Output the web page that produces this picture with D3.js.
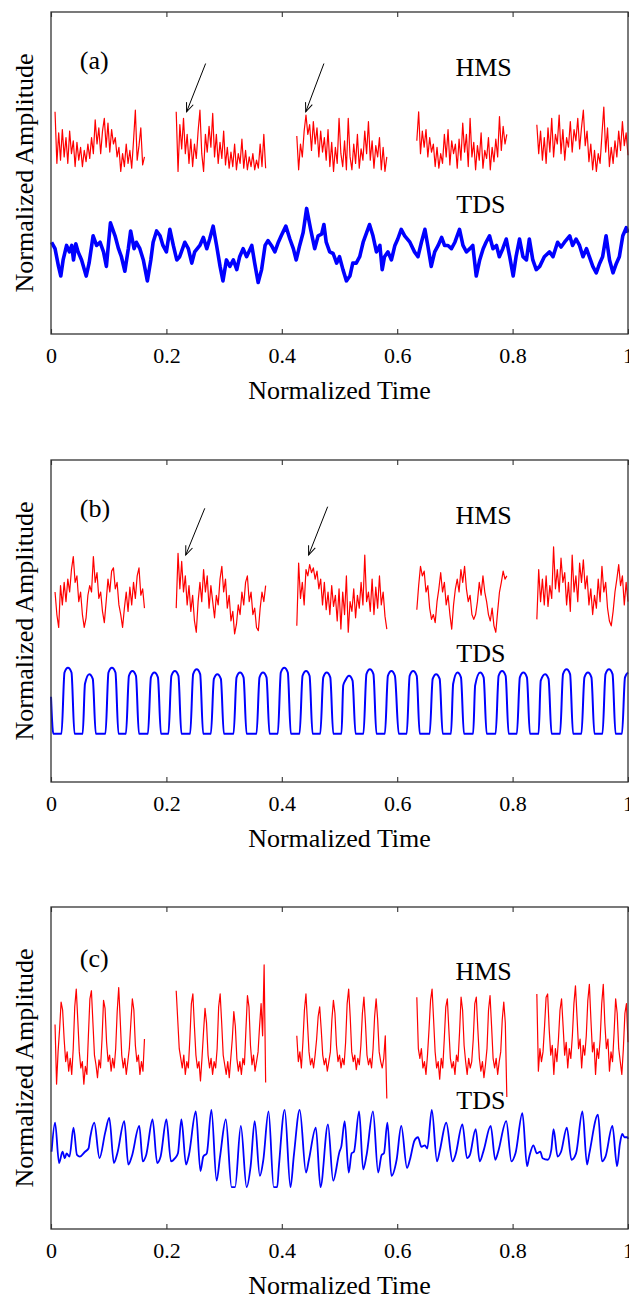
<!DOCTYPE html>
<html><head><meta charset="utf-8">
<script src="https://cdn.jsdelivr.net/npm/d3@7"></script>
<style>
body{margin:0;background:#fff}
svg{display:block}
text{font-family:"Liberation Serif","Times New Roman",serif;fill:#000}
</style>
</head><body>
<svg id="chart" width="629" height="1295"></svg>
<script>
// ---------------- DATA ----------------
const tickValues = [0, 0.2, 0.4, 0.6, 0.8, 1];
const tickLabels = ["0", "0.2", "0.4", "0.6", "0.8", "1"];
const panelLabels = ["(a)", "(b)", "(c)"];
const seriesNames = ["HMS", "TDS"];

// HMS recording segments (normalized time)
const hmsStart = [0.007, 0.217, 0.426, 0.634, 0.842];
const hmsEnd   = [0.162, 0.372, 0.582, 0.790, 1.0];

// HMS amplitudes, panel (a)
const hmsA = [
 [138,106,125,108,127,110,122,106,126,112,120,104,119,108,116,104,114,107,118,109,122,112,133,118,128,112,126,134,116,131,113,127,118,122,110,116,101,112,104,118,106,114,103,120,139,108,117,128,105,110],
 [138,101,130,115,134,112,124,106,121,104,118,109,126,139,112,101,124,113,129,116,137,110,124,106,119,109,126,105,116,103,113,104,118,102,112,106,121,103,114,102,110,104,112,102,108,103,118,104,124,103],
 [123,102,118,110,126,136,124,130,114,132,118,128,110,126,113,122,108,127,104,119,101,116,106,134,112,104,120,102,134,110,102,118,106,124,103,115,108,126,112,132,108,120,103,117,110,122,102,116,101,110],
 [120,138,112,126,116,127,110,122,113,118,104,116,103,112,106,124,110,127,105,120,112,118,103,121,108,131,113,124,104,134,110,119,102,117,108,125,103,114,109,122,102,116,107,121,110,135,114,129,118,124],
 [130,112,126,108,122,106,128,113,134,110,124,118,136,112,127,108,122,116,132,113,127,120,134,115,128,139,117,126,107,118,102,114,101,112,106,124,141,113,128,104,116,106,120,110,126,114,132,117,125,111]
];
// HMS amplitudes, panel (b)
const hmsB = [
 [118,104,96,122,110,124,112,126,118,132,140,124,128,112,118,104,96,102,116,122,118,140,124,130,114,118,106,99,112,126,118,131,133,120,124,110,104,96,108,118,106,121,110,124,114,128,133,116,120,108],
 [108,142,120,137,118,128,110,122,106,116,100,93,112,124,112,132,118,128,108,122,112,102,116,110,126,134,118,126,108,116,100,106,92,98,110,104,118,110,124,128,112,118,104,108,96,94,108,118,112,122],
 [97,136,114,124,110,132,128,135,130,133,126,131,120,126,110,124,107,118,104,122,109,116,100,120,95,118,104,128,93,112,106,120,102,116,108,124,110,141,112,118,106,126,104,121,108,128,110,118,103,95],
 [107,122,134,128,131,118,122,108,101,104,99,112,120,130,118,124,110,116,104,95,110,120,126,118,132,124,134,120,112,116,104,101,104,112,124,116,128,118,112,104,100,108,97,93,106,118,124,131,126,128],
 [101,132,112,126,110,128,109,122,114,146,120,132,118,139,124,130,110,124,106,141,118,128,112,136,124,138,120,128,110,120,104,116,108,126,112,134,118,124,108,100,97,106,118,126,135,122,128,110,124,112]
];
// HMS amplitudes, panel (c)
const hmsC = [
 [127,90,110,124,141,136,118,104,110,98,106,96,112,138,149,130,110,100,104,90,101,96,120,143,148,128,108,102,94,105,100,118,142,137,116,104,108,98,106,100,112,135,150,130,108,100,106,96,104,112,128,143,136,114,104,108,96,104,98,118],
 [148,130,112,106,100,108,96,104,100,118,140,146,126,108,100,104,92,106,122,137,128,108,100,106,96,104,100,112,138,146,128,108,102,96,104,94,106,118,135,126,106,98,104,96,106,102,124,145,138,114,102,108,98,104,110,126,140,120,164,91],
 [120,104,110,100,116,136,146,128,110,102,106,100,108,118,132,138,124,108,102,106,98,104,110,130,142,134,114,104,108,100,106,102,116,140,149,132,110,104,108,99,106,102,114,134,144,128,108,102,106,100,112,132,143,130,110,104,100,106,120,81],
 [144,112,106,112,100,104,96,108,124,142,149,130,110,100,104,93,106,100,118,138,143,124,106,100,104,96,108,104,122,144,136,114,104,96,106,100,104,118,140,144,124,106,98,104,94,102,112,136,145,126,106,100,106,96,104,110,130,141,128,82],
 [146,98,112,104,110,126,144,146,124,108,114,96,112,104,118,136,143,126,108,116,100,112,106,120,140,151,132,112,118,100,114,108,120,142,152,130,110,116,96,112,106,118,140,152,128,112,118,98,110,104,122,143,134,112,104,96,112,134,140,116]
];

// TDS (time, amplitude), panel (a)
const tdsA = [[0.001,57],[0.007,53],[0.013,42],[0.017,36],[0.021,46],[0.027,55],[0.032,51],[0.036,55],[0.039,46],[0.043,56],[0.047,51],[0.053,46],[0.061,36],[0.066,44],[0.073,61],[0.079,55],[0.085,57],[0.091,51],[0.096,42],[0.103,69],[0.111,61],[0.117,53],[0.122,48],[0.128,39],[0.134,53],[0.138,64],[0.144,53],[0.148,57],[0.154,53],[0.160,46],[0.167,33],[0.173,46],[0.177,57],[0.183,64],[0.189,61],[0.194,55],[0.200,51],[0.206,65],[0.212,55],[0.218,46],[0.223,48],[0.232,57],[0.238,53],[0.244,44],[0.249,51],[0.258,55],[0.264,60],[0.270,53],[0.275,59],[0.281,67],[0.287,55],[0.293,42],[0.298,33],[0.304,46],[0.310,42],[0.316,46],[0.322,40],[0.327,48],[0.333,53],[0.339,48],[0.348,55],[0.353,44],[0.359,32],[0.365,40],[0.371,55],[0.376,58],[0.382,55],[0.388,51],[0.394,57],[0.399,61],[0.407,67],[0.414,59],[0.420,53],[0.425,46],[0.431,55],[0.437,63],[0.443,78],[0.450,65],[0.457,53],[0.463,61],[0.469,62],[0.473,68],[0.477,57],[0.483,51],[0.489,50],[0.495,44],[0.500,48],[0.506,40],[0.512,33],[0.518,36],[0.523,44],[0.529,44],[0.535,48],[0.541,57],[0.547,63],[0.552,68],[0.558,61],[0.564,51],[0.570,55],[0.574,40],[0.578,48],[0.584,51],[0.590,46],[0.596,55],[0.601,59],[0.607,65],[0.613,61],[0.622,57],[0.630,51],[0.636,48],[0.642,57],[0.648,65],[0.653,55],[0.659,42],[0.665,51],[0.671,55],[0.677,60],[0.682,55],[0.688,55],[0.694,53],[0.700,57],[0.708,65],[0.714,55],[0.720,51],[0.726,53],[0.731,55],[0.737,36],[0.743,46],[0.749,53],[0.754,57],[0.760,61],[0.766,53],[0.772,55],[0.777,48],[0.783,53],[0.789,59],[0.795,48],[0.801,36],[0.806,48],[0.812,59],[0.818,48],[0.824,46],[0.829,59],[0.835,46],[0.841,40],[0.847,42],[0.855,48],[0.864,51],[0.870,48],[0.878,57],[0.884,54],[0.890,57],[0.899,61],[0.904,55],[0.910,59],[0.916,55],[0.922,48],[0.928,53],[0.933,48],[0.939,42],[0.945,38],[0.951,44],[0.956,48],[0.962,61],[0.968,46],[0.974,38],[0.980,44],[0.985,48],[0.991,61],[0.997,66],[1.0,63]];

// TDS (time, amplitude), panel (b)
const tdsB = [[0,53],[0.004,30],
 [0.0182,30],[0.0234,68],[0.0294,71],[0.0355,68],[0.0407,30],
 [0.0549,30],[0.0589,61],[0.0663,67],[0.0724,64],[0.0776,30],
 [0.0944,30],[0.0996,68],[0.1056,71],[0.1117,68],[0.1169,30],
 [0.1299,30],[0.1351,66],[0.1411,69],[0.1472,66],[0.1524,30],
 [0.1680,30],[0.1732,65],[0.1792,68],[0.1853,65],[0.1905,30],
 [0.2035,30],[0.2087,66],[0.2147,69],[0.2208,66],[0.2260,30],
 [0.2412,30],[0.2464,67],[0.2525,70],[0.2585,67],[0.2637,30],
 [0.2771,30],[0.2823,64],[0.2883,67],[0.2944,64],[0.2996,30],
 [0.3164,30],[0.3216,65],[0.3276,68],[0.3337,65],[0.3389,30],
 [0.3562,30],[0.3614,65],[0.3674,68],[0.3735,65],[0.3787,30],
 [0.3931,30],[0.3983,68],[0.4043,71],[0.4104,68],[0.4156,30],
 [0.4308,30],[0.4360,66],[0.4421,69],[0.4481,66],[0.4533,30],
 [0.4667,30],[0.4719,65],[0.4779,68],[0.4840,65],[0.4892,30],
 [0.5034,30],[0.5065,60],[0.5100,63],[0.5165,66],[0.5226,63],[0.5278,30],
 [0.5415,30],[0.5467,67],[0.5527,70],[0.5588,67],[0.5640,30],
 [0.5787,30],[0.5839,66],[0.5900,69],[0.5960,66],[0.6026,30],
 [0.6165,30],[0.6216,66],[0.6277,69],[0.6338,66],[0.6390,30],
 [0.6563,30],[0.6615,64],[0.6675,67],[0.6736,64],[0.6788,30],
 [0.6932,30],[0.6970,61],[0.7044,68],[0.7105,65],[0.7157,30],
 [0.7316,30],[0.7351,60],[0.7437,68],[0.7498,65],[0.7550,30],
 [0.7706,30],[0.7758,66],[0.7818,69],[0.7879,66],[0.7931,30],
 [0.8074,30],[0.8126,65],[0.8187,68],[0.8248,65],[0.8300,30],
 [0.8450,30],[0.8488,63],[0.8563,67],[0.8623,64],[0.8675,30],
 [0.8823,30],[0.8874,67],[0.8935,70],[0.8996,67],[0.9048,30],
 [0.9193,30],[0.9245,65],[0.9306,68],[0.9366,65],[0.9418,30],
 [0.9558,30],[0.9610,67],[0.9671,70],[0.9732,67],[0.9784,30],
 [0.9896,30],[0.9948,65],[1.0,68]];

// TDS (time, amplitude), panel (c)
const tdsC = [[0.001,48],[0.007,66],[0.014,41],[0.020,48],[0.024,44],[0.027,47],[0.032,45],[0.039,63],[0.045,46],[0.050,45],[0.059,48],[0.065,50],[0.068,57],[0.075,66],[0.084,44],[0.094,60],[0.101,69],[0.109,41],[0.115,47],[0.127,67],[0.134,40],[0.140,45],[0.153,64],[0.159,42],[0.165,46],[0.176,68],[0.184,41],[0.190,45],[0.200,68],[0.208,42],[0.215,44],[0.220,47],[0.226,68],[0.234,40],[0.239,46],[0.251,73],[0.259,36],[0.264,45],[0.270,47],[0.278,74],[0.287,30],[0.293,45],[0.303,68],[0.313,26],[0.319,26],[0.329,64],[0.339,26],[0.346,39],[0.353,67],[0.362,33],[0.368,43],[0.377,73],[0.386,26],[0.392,26],[0.395,39],[0.405,74],[0.415,26],[0.421,46],[0.431,74],[0.442,35],[0.447,43],[0.459,63],[0.467,26],[0.480,65],[0.489,30],[0.500,48],[0.503,51],[0.509,67],[0.516,35],[0.521,47],[0.525,48],[0.534,73],[0.541,37],[0.547,46],[0.558,73],[0.567,35],[0.573,46],[0.577,47],[0.583,66],[0.590,33],[0.599,43],[0.607,64],[0.617,38],[0.622,43],[0.630,55],[0.636,57],[0.642,51],[0.648,52],[0.652,50],[0.660,74],[0.669,42],[0.674,49],[0.685,66],[0.696,42],[0.701,46],[0.713,65],[0.721,44],[0.726,46],[0.736,62],[0.743,42],[0.750,49],[0.762,64],[0.770,43],[0.775,48],[0.789,67],[0.798,42],[0.805,47],[0.817,72],[0.825,39],[0.829,45],[0.836,52],[0.842,47],[0.848,48],[0.852,44],[0.861,43],[0.867,49],[0.871,62],[0.878,45],[0.884,48],[0.894,63],[0.902,43],[0.910,47],[0.921,73],[0.929,40],[0.933,47],[0.948,71],[0.955,42],[0.961,45],[0.973,64],[0.981,39],[0.986,53],[0.990,59],[0.994,57],[0.999,57],[1.0,56]];

// Arrow annotations (time, amplitude): [from, to]
const arrowsA = [[[0.268,168],[0.235,138]], [[0.473,168],[0.4415,138]]];
const arrowsB = [[[0.2665,170],[0.2335,141]], [[0.4795,171],[0.4465,141]]];

// ---------------- LAYOUT ----------------
const svg = d3.select("#chart");
const L = 51, R = 628, PH = 322;
const tops = [12, 460, 907];
const yDomain = [0, 200];
const labelPos = [
  {tag:[0.05,164.6], hms:[0.701,160], tds:[0.7025,75]},
  {tag:[0.05,164.6], hms:[0.701,160], tds:[0.7025,74.5]},
  {tag:[0.05,163],   hms:[0.701,154.7], tds:[0.7025,74.5]}
];
const tdsWidth = [3.6, 2, 1.8];
const tdsCurve = [d3.curveLinear, d3.curveMonotoneX, d3.curveMonotoneX];

const defs = svg.append("defs");
defs.append("marker").attr("id","ah").attr("markerUnits","userSpaceOnUse")
  .attr("viewBox","-10 -6 12 12").attr("refX",0).attr("refY",0)
  .attr("markerWidth",12).attr("markerHeight",12).attr("orient","auto")
  .append("path").attr("d","M-9,-3.6L0,0L-9,3.6").attr("fill","none")
  .attr("stroke","#000").attr("stroke-width",1);

const x = d3.scaleLinear().domain([0,1]).range([L,R]);

const panels = [
  {hms: hmsA, tds: tdsA, arrows: arrowsA},
  {hms: hmsB, tds: tdsB, arrows: arrowsB},
  {hms: hmsC, tds: tdsC, arrows: []}
];

panels.forEach((p, pi) => {
  const top = tops[pi], bottom = top + PH;
  const y = d3.scaleLinear().domain(yDomain).range([bottom, top]);
  const g = svg.append("g");

  // HMS segments
  const lineH = d3.line().x(d => x(d[0])).y(d => y(d[1]));
  p.hms.forEach((seg, si) => {
    const t0 = hmsStart[si], t1 = hmsEnd[si], n = seg.length;
    const pts = seg.map((v, i) => [t0 + (t1 - t0) * i / (n - 1), v]);
    g.append("path").attr("d", lineH(pts)).attr("fill","none")
      .attr("stroke","#ff0000").attr("stroke-width",1.2).attr("stroke-linejoin","round");
  });

  // TDS
  const lineT = d3.line().x(d => x(d[0])).y(d => y(d[1])).curve(tdsCurve[pi]);
  g.append("path").attr("d", lineT(p.tds)).attr("fill","none")
    .attr("stroke","#0000ff").attr("stroke-width",tdsWidth[pi]).attr("stroke-linejoin","round");

  // Arrows
  p.arrows.forEach(a => {
    g.append("line").attr("x1",x(a[0][0])).attr("y1",y(a[0][1]))
      .attr("x2",x(a[1][0])).attr("y2",y(a[1][1]))
      .attr("stroke","#000").attr("stroke-width",1).attr("marker-end","url(#ah)");
  });

  // Frame
  g.append("rect").attr("x",L).attr("y",top).attr("width",R-L).attr("height",PH)
    .attr("fill","none").attr("stroke","#333").attr("stroke-width",1.3);

  // Bottom axis (ticks inward)
  const ax = g.append("g").attr("transform",`translate(0,${bottom})`)
    .call(d3.axisBottom(x).tickValues(tickValues).tickFormat((d,i)=>tickLabels[i])
      .tickSizeInner(-5).tickSizeOuter(0));
  ax.select(".domain").remove();
  ax.selectAll("line").attr("stroke","#333").attr("stroke-width",1.1);
  ax.selectAll("text").attr("y",29).attr("dy",null)
    .style("font-family",'"Liberation Serif","Times New Roman",serif').style("font-size","22px").attr("fill","#000");

  // Top axis (ticks inward, no labels)
  const axT = g.append("g").attr("transform",`translate(0,${top})`)
    .call(d3.axisTop(x).tickValues(tickValues).tickFormat("").tickSizeInner(-5).tickSizeOuter(0));
  axT.select(".domain").remove();
  axT.selectAll("line").attr("stroke","#333").attr("stroke-width",1.1);

  // Labels
  g.append("text").attr("x",(L+R)/2).attr("y",bottom+65).attr("text-anchor","middle")
    .style("font-size","26px").text("Normalized Time");
  g.append("text").attr("transform",`translate(33,${top+PH/2}) rotate(-90)`)
    .attr("text-anchor","middle").style("font-size","26px").text("Normalized Amplitude");

  const lp = labelPos[pi];
  g.append("text").attr("x",x(lp.tag[0])).attr("y",y(lp.tag[1])).style("font-size","26px").text(panelLabels[pi]);
  g.append("text").attr("x",x(lp.hms[0])).attr("y",y(lp.hms[1])).style("font-size","26px").text(seriesNames[0]);
  g.append("text").attr("x",x(lp.tds[0])).attr("y",y(lp.tds[1])).style("font-size","26px").text(seriesNames[1]);
});
</script>
</body></html>
